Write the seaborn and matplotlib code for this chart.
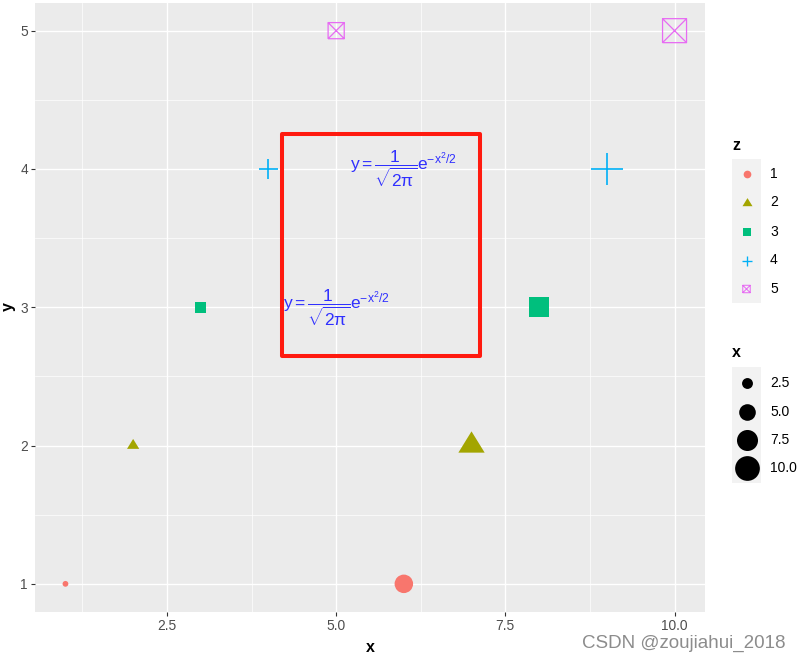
import numpy as np
import pandas as pd
import matplotlib
matplotlib.use("Agg")
import matplotlib.pyplot as plt
import seaborn as sns
from matplotlib.patches import Rectangle
from matplotlib.path import Path
from matplotlib.markers import MarkerStyle

# ---------------- data ----------------
x_vals = [1, 2, 3, 4, 5, 6, 7, 8, 9, 10]
y_vals = [1, 2, 3, 4, 5, 1, 2, 3, 4, 5]
z_levels = ["1", "2", "3", "4", "5"]
z_colors = ["#F8766D", "#A3A500", "#00BF7D", "#00B0F6", "#E76BF3"]
size_breaks = [2.5, 5.0, 7.5, 10.0]
size_labels = ["2.5", "5.0", "7.5", "10.0"]
x_ticks = [2.5, 5.0, 7.5, 10.0]
x_tick_labels = ["2.5", "5.0", "7.5", "10.0"]
y_ticks = [1, 2, 3, 4, 5]
y_tick_labels = ["1", "2", "3", "4", "5"]
label_x = [6, 5]
label_y = [4, 3]
rect_x = [4.2, 7.13]
rect_y = [2.65, 4.25]
formula = r"$\mathregular{y = \dfrac{1}{\sqrt{2\pi}}e^{-x^2/2}}$"

df = pd.DataFrame({"x": x_vals, "y": y_vals,
                   "z": [str(v) for v in y_vals]})

# ---------------- style ----------------
W, H, DPI = 801, 663, 100
plt.rcParams["font.family"] = ["Liberation Sans", "DejaVu Sans"]
plt.rcParams["mathtext.fontset"] = "custom"
plt.rcParams["mathtext.rm"] = "Liberation Sans"
plt.rcParams["mathtext.it"] = "Liberation Sans"
plt.rcParams["mathtext.bf"] = "Liberation Sans:bold"

def gg_size(v):
    return 1 + 5 * (np.sqrt(v) - 1) / (np.sqrt(10) - 1)

def diam_px(v):
    return 3.79 * gg_size(np.asarray(v, dtype=float)) + 2.0

def s_from_px(px):
    return (np.asarray(px) * 72.0 / DPI) ** 2

tri_path = Path([(0, 0.54), (-0.5, -0.27), (0.5, -0.27), (0, 0.54)],
                [Path.MOVETO, Path.LINETO, Path.LINETO, Path.CLOSEPOLY])
tri_marker = MarkerStyle(tri_path)
boxx_path = Path([(-1, -1), (1, -1), (1, 1), (-1, 1), (-1, -1),
                  (-1, -1), (1, 1), (-1, 1), (1, -1)],
                 [Path.MOVETO, Path.LINETO, Path.LINETO, Path.LINETO, Path.LINETO,
                  Path.MOVETO, Path.LINETO, Path.MOVETO, Path.LINETO])
boxx_marker = MarkerStyle(boxx_path, fillstyle="none")

# marker spec per level: (marker, size factor relative to circle diameter, linewidth)
marker_specs = {
    "1": ("o", 1.0, 0),
    "2": (tri_marker, 1.3 * 0.54 / 0.5, 0),
    "3": ("s", 0.93, 0),
    "4": ("+", 1.35, 1.2),
    "5": (boxx_marker, 0.97, 0.9),
}

fig = plt.figure(figsize=(W / DPI, H / DPI), dpi=DPI)
ax = fig.add_axes([35 / W, 1 - 611.5 / H, (705 - 35) / W, (611.5 - 3) / H])
ax.set_facecolor("#EBEBEB")
for sp in ax.spines.values():
    sp.set_visible(False)

ax.set_xlim(0.55, 10.45)
ax.set_ylim(0.8, 5.2)
ax.set_xticks(x_ticks)
ax.set_xticklabels(x_tick_labels)
ax.set_yticks(y_ticks)
ax.set_yticklabels(y_tick_labels)
ax.set_xticks([1.25, 3.75, 6.25, 8.75], minor=True)
ax.set_yticks([1.5, 2.5, 3.5, 4.5], minor=True)
ax.grid(which="major", color="white", linewidth=1.0)
ax.grid(which="minor", color="white", linewidth=0.5)
ax.set_axisbelow(True)
ax.tick_params(which="major", length=2.7, width=0.8, color="#333333",
               labelsize=9.9, labelcolor="#4D4D4D", pad=2.5)
ax.tick_params(which="minor", length=0)

# ---------------- points ----------------
for lvl, col in zip(z_levels, z_colors):
    sub = df[df["z"] == lvl]
    mk, fac, lw = marker_specs[lvl]
    s = s_from_px(diam_px(sub["x"].values) * fac)
    kws = dict(marker=mk, s=s, color=col, legend=False, ax=ax, zorder=3)
    if lw:
        kws["linewidth"] = lw
    else:
        kws["linewidth"] = 0
        kws["edgecolor"] = "none"
    sns.scatterplot(data=sub, x="x", y="y", **kws)
# ensure hollow boxed-x markers keep their colour
coll = ax.collections[-1]
coll.set_facecolor("none")
coll.set_edgecolor(z_colors[-1])
coll.set_linewidth(0.9)

# ---------------- annotations ----------------
for lx, ly in zip(label_x, label_y):
    ax.text(lx, ly, formula, color="#3030FF", fontsize=12.5,
            ha="center", va="center", zorder=4)
ax.add_patch(Rectangle((rect_x[0], rect_y[0]), rect_x[1] - rect_x[0],
                       rect_y[1] - rect_y[0], fill=False, edgecolor="#FF1A0F",
                       linewidth=2.9, joinstyle="round", zorder=5))

ax.set_xlabel("")
ax.set_ylabel("")
fig.text(370 / W, 1 - 648 / H, "x", fontsize=11.5, fontweight="bold",
         ha="center", va="center")
fig.text(8 / W, 1 - 307 / H, "y", fontsize=11.5, fontweight="bold",
         ha="center", va="center", rotation=90)

# ---------------- legends (drawn in pixel space) ----------------
lg = fig.add_axes([0, 0, 1, 1], zorder=10)
lg.set_xlim(0, W)
lg.set_ylim(H, 0)
lg.axis("off")
lg.patch.set_alpha(0)

key_x = 746.5
lg.text(732, 145, "z", fontsize=11.5, fontweight="bold", ha="left", va="center")
lg.add_patch(Rectangle((732, 159), 29, 144, facecolor="#F2F2F2", edgecolor="none"))
z_key_y = [173.5, 202.5, 231.5, 260.5, 289]
d_leg = 3.79 * 1.5 + 2.0
for lvl, col, ky in zip(z_levels, z_colors, z_key_y):
    mk, fac, lw = marker_specs[lvl]
    if lw:
        lg.scatter([key_x], [ky], marker=mk, s=s_from_px(d_leg * fac),
                   color=col, linewidths=lw * 0.8)
    else:
        lg.scatter([key_x], [ky], marker=mk, s=s_from_px(d_leg * fac),
                   color=col, linewidths=0)
    lg.text(770, ky, lvl, fontsize=10, ha="left", va="center")
lg.collections[-1].set_facecolor("none")
lg.collections[-1].set_edgecolor(z_colors[-1])

lg.text(732, 352.5, "x", fontsize=11.5, fontweight="bold", ha="left", va="center")
lg.add_patch(Rectangle((732, 367), 29, 116, facecolor="#F2F2F2", edgecolor="none"))
x_key_y = [383, 411.5, 440, 468]
for br, lab, ky in zip(size_breaks, size_labels, x_key_y):
    lg.scatter([key_x], [ky], marker="o", s=s_from_px(diam_px(br)),
               color="black", linewidths=0)
    lg.text(770, ky, lab, fontsize=10, ha="left", va="center")

# watermark
lg.text(785, 643, "CSDN @zoujiahui_2018", fontsize=13.5, color="#8C8C8C",
        ha="right", va="center")

fig.savefig("out.png", dpi=DPI)
